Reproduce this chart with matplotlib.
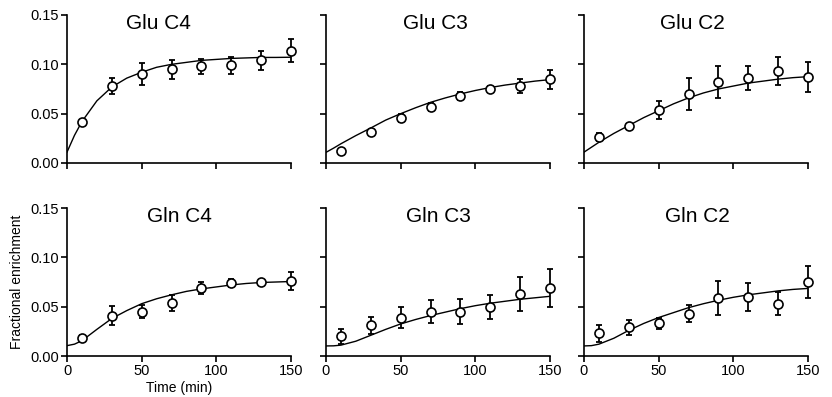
import matplotlib
matplotlib.use("Agg")
import matplotlib.pyplot as plt

plt.rcParams["font.family"] = ["Liberation Sans", "DejaVu Sans"]

# ---- data ----
T = [10, 30, 50, 70, 90, 110, 130, 150]
TFIT = [0, 5, 10, 20, 30, 40, 50, 60, 70, 80, 90, 100, 110, 120, 130, 140, 150]

titles = ["Glu C4", "Glu C3", "Glu C2", "Gln C4", "Gln C3", "Gln C2"]

glu_c4 = [0.042, 0.078, 0.090, 0.095, 0.098, 0.099, 0.104, 0.114]
glu_c4_err = [0.002, 0.0085, 0.011, 0.0095, 0.0075, 0.0085, 0.010, 0.012]
glu_c4_fit = [0.011, 0.028, 0.042, 0.063, 0.077, 0.086, 0.092, 0.097, 0.100, 0.102, 0.104,
              0.105, 0.106, 0.1065, 0.107, 0.107, 0.1072]

glu_c3 = [0.012, 0.031, 0.046, 0.057, 0.068, 0.075, 0.078, 0.085]
glu_c3_err = [0.001, 0.002, 0.004, 0.004, 0.004, 0.003, 0.007, 0.0095]
glu_c3_fit = [0.0108, 0.015, 0.0195, 0.0278, 0.0355, 0.0435, 0.050, 0.056, 0.0615, 0.066, 0.070,
              0.0735, 0.0765, 0.079, 0.081, 0.083, 0.0845]

glu_c2 = [0.026, 0.038, 0.054, 0.070, 0.082, 0.086, 0.093, 0.087]
glu_c2_err = [0.004, 0.002, 0.009, 0.016, 0.016, 0.0125, 0.014, 0.015]
glu_c2_fit = [0.011, 0.016, 0.021, 0.030, 0.038, 0.046, 0.053, 0.060, 0.066, 0.071, 0.075,
              0.078, 0.081, 0.083, 0.085, 0.0865, 0.0875]

gln_c4 = [0.018, 0.041, 0.045, 0.054, 0.069, 0.074, 0.075, 0.076]
gln_c4_err = [0.003, 0.010, 0.0065, 0.008, 0.006, 0.004, 0.001, 0.009]
gln_c4_fit = [0.0105, 0.012, 0.0155, 0.027, 0.038, 0.046, 0.053, 0.058, 0.062, 0.0655, 0.068,
              0.070, 0.072, 0.0735, 0.0745, 0.075, 0.0755]

gln_c3 = [0.020, 0.031, 0.039, 0.045, 0.045, 0.050, 0.063, 0.069]
gln_c3_err = [0.0077, 0.009, 0.0107, 0.012, 0.013, 0.012, 0.017, 0.019]
gln_c3_fit = [0.0102, 0.0103, 0.011, 0.015, 0.021, 0.027, 0.0325, 0.037, 0.041, 0.0445, 0.048,
              0.051, 0.0535, 0.0555, 0.0575, 0.059, 0.0605]

gln_c2 = [0.023, 0.029, 0.033, 0.043, 0.059, 0.060, 0.053, 0.075]
gln_c2_err = [0.0085, 0.0076, 0.006, 0.009, 0.017, 0.014, 0.0117, 0.016]
gln_c2_fit = [0.0102, 0.0105, 0.012, 0.018, 0.026, 0.033, 0.039, 0.044, 0.049, 0.053, 0.0565,
              0.0595, 0.062, 0.064, 0.066, 0.0675, 0.0685]

means = [glu_c4, glu_c3, glu_c2, gln_c4, gln_c3, gln_c2]
errs = [glu_c4_err, glu_c3_err, glu_c2_err, gln_c4_err, gln_c3_err, gln_c2_err]
fits = [glu_c4_fit, glu_c3_fit, glu_c2_fit, gln_c4_fit, gln_c3_fit, gln_c2_fit]
title_x = [0.41, 0.49, 0.486, 0.50, 0.50, 0.505]

# ---- layout (pixel-matched) ----
W, H = 832, 397
fig = plt.figure(figsize=(W / 100, H / 100), dpi=100)
lefts = [67, 326, 584]
rows = [(15, 163), (208, 356)]
aw = 224

for i in range(6):
    r, c = divmod(i, 3)
    top, bot = rows[r]
    ax = fig.add_axes([lefts[c] / W, 1 - bot / H, aw / W, (bot - top) / H])
    ax.plot(TFIT, fits[i], color="black", lw=1.0, zorder=2)
    ax.errorbar(T, means[i], yerr=errs[i], fmt="none", ecolor="black", elinewidth=1.3,
                capsize=2, capthick=1.3, zorder=3, clip_on=False)
    ax.plot(T, means[i], "o", ms=6.5, mfc="white", mec="black", mew=1.2, zorder=4, clip_on=False)
    ax.set_xlim(0, 150)
    ax.set_ylim(0, 0.15)
    ax.set_xticks([0, 50, 100, 150])
    ax.set_yticks([0, 0.05, 0.10, 0.15])
    for s in ("top", "right"):
        ax.spines[s].set_visible(False)
    for s in ("left", "bottom"):
        ax.spines[s].set_linewidth(1.2)
    ax.tick_params(direction="out", length=4, width=1.2, labelsize=10.5, pad=2)
    if c == 0:
        ax.set_yticklabels(["0.00", "0.05", "0.10", "0.15"])
    else:
        ax.set_yticklabels([])
    if r == 0:
        ax.set_xticklabels([])
    ax.text(title_x[i], 0.94, titles[i], transform=ax.transAxes, ha="center", va="center",
            fontsize=15)
    if i == 3:
        ax.set_ylabel("Fractional enrichment", fontsize=10, labelpad=4)
        ax.set_xlabel("Time (min)", fontsize=10, labelpad=2)

fig.savefig("out.png", dpi=100)
